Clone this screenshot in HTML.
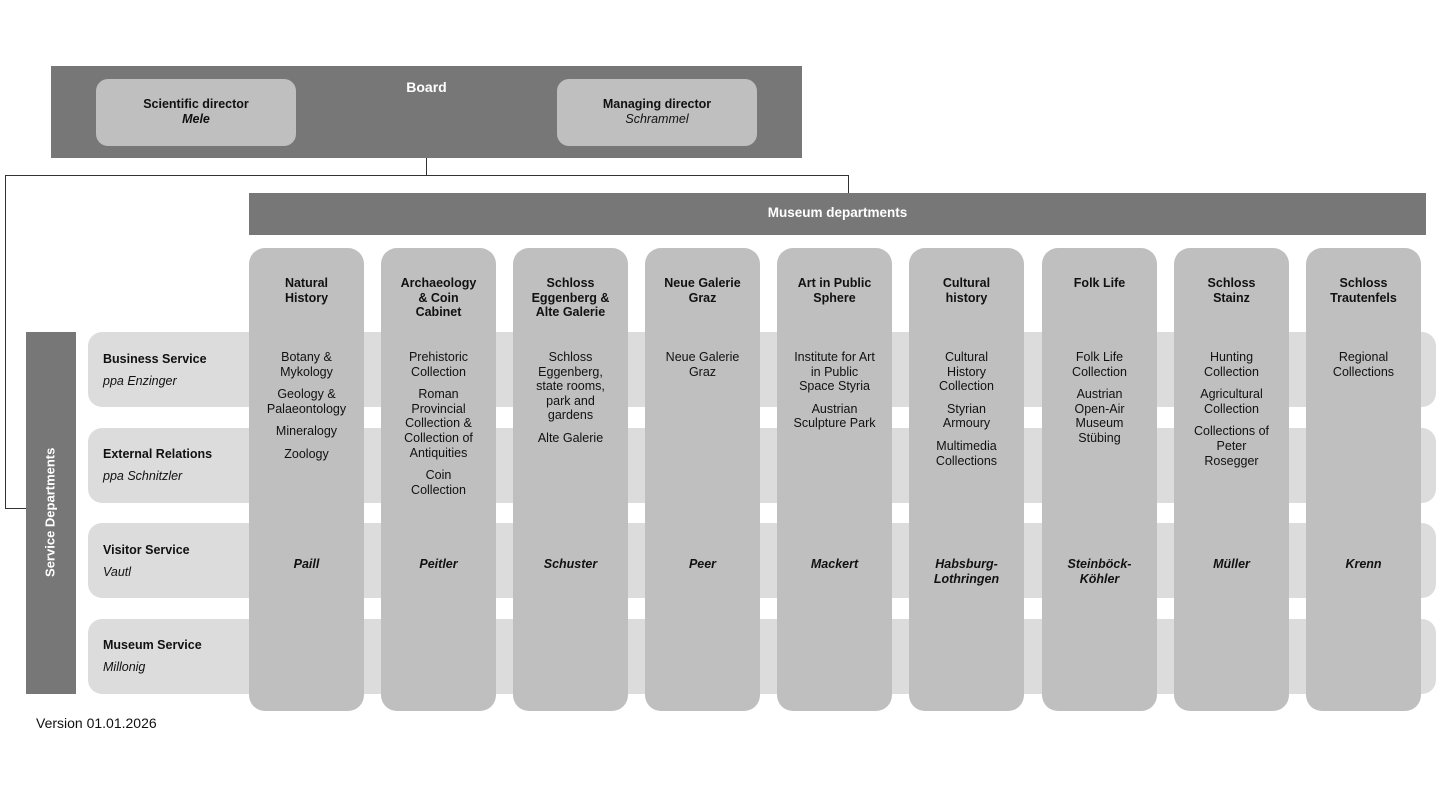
<!DOCTYPE html>
<html><head><meta charset="utf-8"><style>
body{margin:0;width:1440px;height:809px;background:#fff;position:relative;overflow:hidden;font-family:"Liberation Sans",sans-serif;color:#111}
.a{position:absolute;box-sizing:border-box}
.dark{background:#777}
.box{background:#bfbfbf;border-radius:12px}
.row{background:#dcdcdc;border-radius:14px}
.col{background:#bfbfbf;border-radius:16px;width:115px;top:248px;height:463px}
.ln{position:absolute;background:#333}
.t{position:absolute;font-size:12.5px;line-height:14.6px;text-align:center}
.h{font-weight:bold;top:276px}
.it{top:350px}
.it p{margin:0 0 8px}
.nm{font-style:italic;font-weight:bold;top:557px}
.rl{position:absolute;left:103px;font-size:12.5px}
.rl b{display:block;margin-bottom:8px}
</style></head><body>
<div class="a dark" style="left:51px;top:66px;width:751px;height:92px"></div>
<div class="t" style="left:51px;width:751px;top:80px;color:#fff;font-weight:bold;font-size:14px">Board</div>
<div class="a box" style="left:96px;top:79px;width:200px;height:67px"></div>
<div class="t" style="left:96px;width:200px;top:97px"><b>Scientific director</b><br><i><b>Mele</b></i></div>
<div class="a box" style="left:557px;top:79px;width:200px;height:67px"></div>
<div class="t" style="left:557px;width:200px;top:97px"><b>Managing director</b><br><i>Schrammel</i></div>
<div class="ln" style="left:426px;top:158px;width:1px;height:18px"></div>
<div class="ln" style="left:5px;top:175px;width:844px;height:1px"></div>
<div class="ln" style="left:848px;top:175px;width:1px;height:18px"></div>
<div class="ln" style="left:5px;top:175px;width:1px;height:334px"></div>
<div class="ln" style="left:5px;top:508px;width:21px;height:1px"></div>
<div class="a dark" style="left:249px;top:193px;width:1177px;height:42px"></div>
<div class="t" style="left:249px;width:1177px;top:206px;color:#fff;font-weight:bold;font-size:13.5px">Museum departments</div>
<div class="a row" style="left:88px;top:332px;width:1348px;height:75px"></div>
<div class="a row" style="left:88px;top:428px;width:1348px;height:75px"></div>
<div class="a row" style="left:88px;top:523px;width:1348px;height:75px"></div>
<div class="a row" style="left:88px;top:619px;width:1348px;height:75px"></div>
<div class="a dark" style="left:26px;top:332px;width:50px;height:362px"></div>
<div class="t" style="left:-130px;top:505px;width:362px;transform:rotate(-90deg);color:#fff;font-weight:bold;font-size:13px">Service Departments</div>
<div class="rl" style="top:352px"><b>Business Service</b><i>ppa Enzinger</i></div>
<div class="rl" style="top:447px"><b>External Relations</b><i>ppa Schnitzler</i></div>
<div class="rl" style="top:543px"><b>Visitor Service</b><i>Vautl</i></div>
<div class="rl" style="top:638px"><b>Museum Service</b><i>Millonig</i></div>

<div class="a col" style="left:249px"></div><div class="a col" style="left:381px"></div><div class="a col" style="left:513px"></div><div class="a col" style="left:645px"></div><div class="a col" style="left:777px"></div><div class="a col" style="left:909px"></div><div class="a col" style="left:1042px"></div><div class="a col" style="left:1174px"></div><div class="a col" style="left:1306px"></div>

<div class="t h" style="left:249px;width:115px">Natural<br>History</div>
<div class="t it" style="left:249px;width:115px"><p>Botany &amp;<br>Mykology</p><p>Geology &amp;<br>Palaeontology</p><p>Mineralogy</p><p>Zoology</p></div>
<div class="t nm" style="left:249px;width:115px">Paill</div>

<div class="t h" style="left:381px;width:115px">Archaeology<br>&amp; Coin<br>Cabinet</div>
<div class="t it" style="left:381px;width:115px"><p>Prehistoric<br>Collection</p><p>Roman<br>Provincial<br>Collection &amp;<br>Collection of<br>Antiquities</p><p>Coin<br>Collection</p></div>
<div class="t nm" style="left:381px;width:115px">Peitler</div>

<div class="t h" style="left:513px;width:115px">Schloss<br>Eggenberg &amp;<br>Alte Galerie</div>
<div class="t it" style="left:513px;width:115px"><p>Schloss<br>Eggenberg,<br>state rooms,<br>park and<br>gardens</p><p>Alte Galerie</p></div>
<div class="t nm" style="left:513px;width:115px">Schuster</div>

<div class="t h" style="left:645px;width:115px">Neue Galerie<br>Graz</div>
<div class="t it" style="left:645px;width:115px"><p>Neue Galerie<br>Graz</p></div>
<div class="t nm" style="left:645px;width:115px">Peer</div>

<div class="t h" style="left:777px;width:115px">Art in Public<br>Sphere</div>
<div class="t it" style="left:777px;width:115px"><p>Institute for Art<br>in Public<br>Space Styria</p><p>Austrian<br>Sculpture Park</p></div>
<div class="t nm" style="left:777px;width:115px">Mackert</div>

<div class="t h" style="left:909px;width:115px">Cultural<br>history</div>
<div class="t it" style="left:909px;width:115px"><p>Cultural<br>History<br>Collection</p><p>Styrian<br>Armoury</p><p>Multimedia<br>Collections</p></div>
<div class="t nm" style="left:909px;width:115px">Habsburg-<br>Lothringen</div>

<div class="t h" style="left:1042px;width:115px">Folk Life</div>
<div class="t it" style="left:1042px;width:115px"><p>Folk Life<br>Collection</p><p>Austrian<br>Open-Air<br>Museum<br>Stübing</p></div>
<div class="t nm" style="left:1042px;width:115px">Steinböck-<br>Köhler</div>

<div class="t h" style="left:1174px;width:115px">Schloss<br>Stainz</div>
<div class="t it" style="left:1174px;width:115px"><p>Hunting<br>Collection</p><p>Agricultural<br>Collection</p><p>Collections of<br>Peter<br>Rosegger</p></div>
<div class="t nm" style="left:1174px;width:115px">Müller</div>

<div class="t h" style="left:1306px;width:115px">Schloss<br>Trautenfels</div>
<div class="t it" style="left:1306px;width:115px"><p>Regional<br>Collections</p></div>
<div class="t nm" style="left:1306px;width:115px">Krenn</div>

<div class="a" style="left:36px;top:715px;font-size:14px">Version 01.01.2026</div>
</body></html>
